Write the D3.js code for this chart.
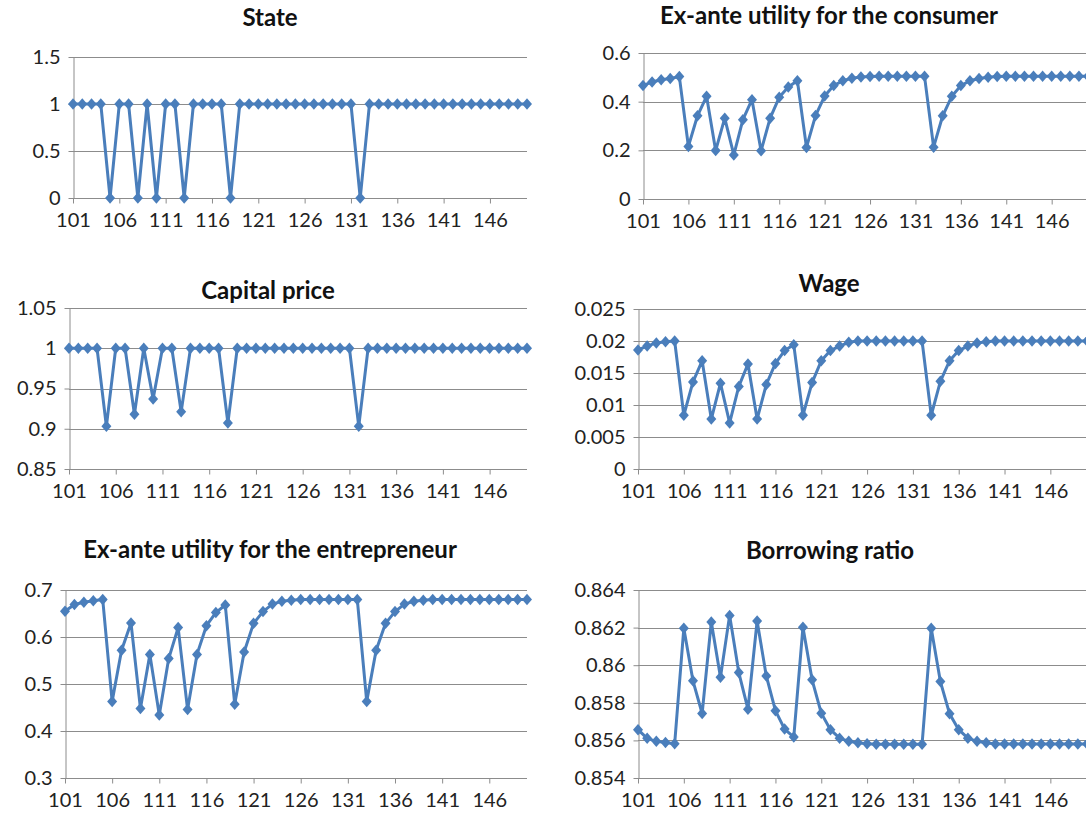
<!DOCTYPE html>
<html>
<head>
<meta charset="utf-8">
<script src="https://cdn.jsdelivr.net/npm/d3@7"></script>
<style>
  html, body { margin: 0; padding: 0; background: #fff; }
  svg { display: block; }
  text { font-family: Lato, "Open Sans", "Liberation Sans", sans-serif; }
</style>
</head>
<body>
<svg id="chart" width="1086" height="822"></svg>
<script>
// ---- DATA ----
const categories = [101,102,103,104,105,106,107,108,109,110,111,112,113,114,115,116,117,118,119,120,
  121,122,123,124,125,126,127,128,129,130,131,132,133,134,135,136,137,138,139,140,
  141,142,143,144,145,146,147,148,149,150];
const xTickLabels = [101,106,111,116,121,126,131,136,141,146];

const stateValues = [1,1,1,1,0,1,1,0,1,0,1,1,0,1,1,1,1,0,1,1,
  1,1,1,1,1,1,1,1,1,1,1,0,1,1,1,1,1,1,1,1,
  1,1,1,1,1,1,1,1,1,1];
const consumerUtility = [0.466,0.481,0.490,0.495,0.503,0.216,0.342,0.422,0.199,0.332,
  0.181,0.326,0.408,0.198,0.332,0.418,0.460,0.486,0.212,0.343,
  0.423,0.466,0.486,0.496,0.501,0.503,0.504,0.504,0.504,0.504,
  0.504,0.504,0.213,0.342,0.422,0.466,0.486,0.495,0.500,0.503,
  0.504,0.504,0.504,0.504,0.504,0.504,0.504,0.504,0.504,0.504];
const capitalPrice = [1,1,1,1,0.903,1,1,0.918,1,0.937,1,1,0.921,1,1,1,1,0.907,1,1,
  1,1,1,1,1,1,1,1,1,1,1,0.903,1,1,1,1,1,1,1,1,
  1,1,1,1,1,1,1,1,1,1];
const wage = [0.0186,0.0192,0.0197,0.0199,0.0200,0.0084,0.0136,0.0169,0.0078,0.0134,
  0.0072,0.0129,0.0164,0.0078,0.0132,0.0165,0.0185,0.0194,0.0084,0.0135,
  0.0169,0.0185,0.0192,0.0198,0.0200,0.0200,0.0200,0.0200,0.0200,0.0200,
  0.0200,0.0200,0.0084,0.0137,0.0169,0.0185,0.0192,0.0197,0.0199,0.0200,
  0.0200,0.0200,0.0200,0.0200,0.0200,0.0200,0.0200,0.0200,0.0200,0.0200];
const entrepreneurUtility = [0.655,0.669,0.674,0.677,0.680,0.463,0.572,0.630,0.448,0.563,
  0.434,0.554,0.620,0.446,0.563,0.624,0.652,0.668,0.457,0.568,
  0.629,0.654,0.670,0.676,0.678,0.680,0.680,0.680,0.680,0.680,
  0.680,0.680,0.463,0.572,0.629,0.654,0.670,0.676,0.678,0.680,
  0.680,0.680,0.680,0.680,0.680,0.680,0.680,0.680,0.680,0.680];
const borrowingRatio = [0.85657,0.85611,0.85595,0.85589,0.85582,0.86196,0.85917,0.85743,0.86230,0.85936,
  0.86265,0.85961,0.85766,0.86235,0.85943,0.85758,0.85660,0.85618,0.86202,0.85922,
  0.85745,0.85657,0.85612,0.85595,0.85588,0.85582,0.85579,0.85579,0.85579,0.85579,
  0.85579,0.85579,0.86196,0.85913,0.85742,0.85657,0.85612,0.85595,0.85588,0.85581,
  0.85581,0.85581,0.85581,0.85581,0.85581,0.85581,0.85581,0.85581,0.85581,0.85581];

const stateTicks = ["0","0.5","1","1.5"];
const consumerTicks = ["0","0.2","0.4","0.6"];
const capitalTicks = ["0.85","0.9","0.95","1","1.05"];
const wageTicks = ["0","0.005","0.01","0.015","0.02","0.025"];
const entrepreneurTicks = ["0.3","0.4","0.5","0.6","0.7"];
const borrowingTicks = ["0.854","0.856","0.858","0.86","0.862","0.864"];

const titles = ["State","Ex-ante utility for the consumer","Capital price","Wage",
  "Ex-ante utility for the entrepreneur","Borrowing ratio"];

// ---- LAYOUT ----
const panels = [
  {title: titles[0], values: stateValues, ticks: stateTicks, x0: 73, x1: 527, yTop: 57, yBot: 198, titleX: 270, titleY: 26},
  {title: titles[1], values: consumerUtility, ticks: consumerTicks, x0: 643, x1: 1088, yTop: 53, yBot: 199, titleX: 829, titleY: 24},
  {title: titles[2], values: capitalPrice, ticks: capitalTicks, x0: 69, x1: 527, yTop: 308, yBot: 469, titleX: 268, titleY: 299},
  {title: titles[3], values: wage, ticks: wageTicks, x0: 638, x1: 1087, yTop: 309, yBot: 469, titleX: 829, titleY: 292},
  {title: titles[4], values: entrepreneurUtility, ticks: entrepreneurTicks, x0: 65, x1: 527, yTop: 590, yBot: 778, titleX: 270, titleY: 558},
  {title: titles[5], values: borrowingRatio, ticks: borrowingTicks, x0: 638, x1: 1087, yTop: 590, yBot: 778, titleX: 830, titleY: 559}
];

const lineColor = "#4a7ebb";
const gridColor = "#8c8c8c";
const svg = d3.select("#chart");

// diamond marker, slightly taller than wide
const diamondType = {
  draw(ctx, size) {
    const w = Math.sqrt(size) * 0.5, h = w * 1.15;
    ctx.moveTo(0, -h); ctx.lineTo(w, 0); ctx.lineTo(0, h); ctx.lineTo(-w, 0); ctx.closePath();
  }
};

panels.forEach(p => {
  const g = svg.append("g");
  const tickNums = p.ticks.map(Number);
  const x = d3.scalePoint().domain(categories).range([p.x0, p.x1]);
  const y = d3.scaleLinear().domain([d3.min(tickNums), d3.max(tickNums)]).range([p.yBot, p.yTop]);

  // gridlines
  g.append("g").selectAll("line").data(tickNums.slice(1)).join("line")
    .attr("x1", p.x0).attr("x2", p.x1)
    .attr("y1", d => Math.round(y(d)) + 0.5).attr("y2", d => Math.round(y(d)) + 0.5)
    .attr("stroke", gridColor).attr("stroke-width", 1);

  // y axis
  const yAxis = d3.axisLeft(y).tickValues(tickNums)
    .tickFormat((d, i) => p.ticks[i]).tickSize(5).tickSizeOuter(0).tickPadding(8);
  const ya = g.append("g").attr("transform", `translate(${Math.round(p.x0) + 0.5},0)`).call(yAxis);
  ya.select(".domain").attr("stroke", gridColor);
  ya.selectAll(".tick line").attr("stroke", gridColor);
  ya.selectAll(".tick text").attr("fill", "#222").style("font-size", "20px");

  // x axis
  const xAxis = d3.axisBottom(x).tickValues(xTickLabels).tickSize(5).tickSizeOuter(0).tickPadding(9);
  const xa = g.append("g").attr("transform", `translate(0,${Math.round(p.yBot) + 0.5})`).call(xAxis);
  xa.select(".domain").attr("stroke", gridColor).attr("d", `M${p.x0},0H${p.x1}`);
  xa.selectAll(".tick line").attr("stroke", gridColor);
  xa.selectAll(".tick text").attr("fill", "#222").style("font-size", "20px");

  // line
  const line = d3.line().x((d, i) => x(categories[i])).y(d => y(d));
  g.append("path").datum(p.values).attr("d", line)
    .attr("fill", "none").attr("stroke", lineColor).attr("stroke-width", 3)
    .attr("stroke-linejoin", "round");

  // diamond markers
  const diamond = d3.symbol().type(diamondType).size(100);
  g.append("g").selectAll("path").data(p.values).join("path")
    .attr("transform", (d, i) => `translate(${x(categories[i])},${y(d)})`)
    .attr("d", diamond).attr("fill", lineColor);

  // title
  g.append("text").attr("x", p.titleX).attr("y", p.titleY)
    .attr("text-anchor", "middle").style("font-size", "24px").style("font-weight", "bold")
    .attr("fill", "#111").text(p.title);
});
</script>
</body>
</html>
